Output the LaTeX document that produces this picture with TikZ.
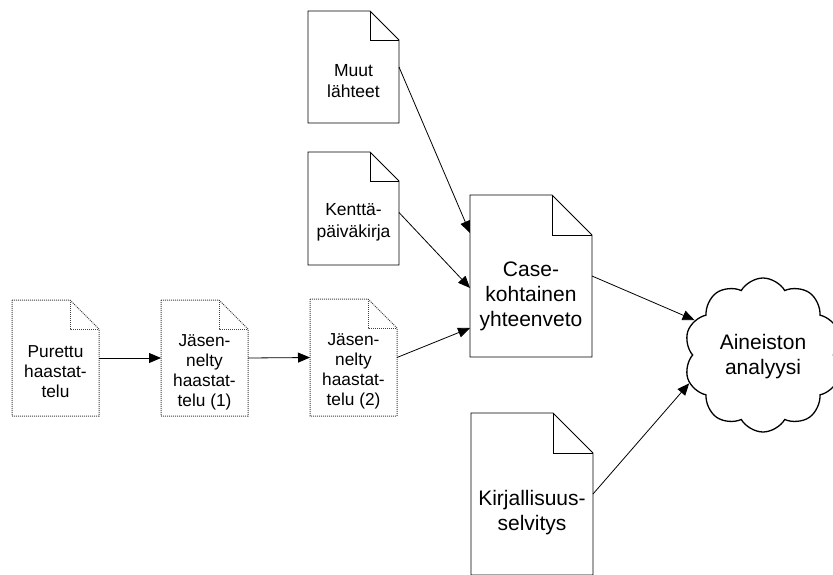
\documentclass[tikz,border=0pt]{standalone}
\usepackage{fontspec}
\setmainfont{Liberation Sans}
\usetikzlibrary{arrows.meta,shapes.symbols}
\tikzset{
  docbox/.style={rectangle, inner sep=0pt, outer sep=0pt, draw=none},
  smalltxt/.style={align=center, inner sep=0pt, font=\fontsize{17.3}{20}\selectfont},
  midtxt/.style={align=center, inner sep=0pt, font=\fontsize{17.5}{21.5}\selectfont},
  bigtxt/.style={align=center, inner sep=0pt, font=\fontsize{21}{25}\selectfont},
  solidline/.style={draw=black, line width=0.9pt, line join=miter},
  dotline/.style={draw=black!75, line width=1pt, dash pattern=on 1pt off 1pt},
  conn/.style={draw=black, line width=0.8pt, -{Triangle[length=12pt,width=10pt]}},
}
\newcommand\docout[3]{%
  \draw[#3] (#1.north west) -- ([xshift=-#2]#1.north east) -- ([yshift=-#2]#1.north east) -- (#1.south east) -- (#1.south west) -- cycle;
  \draw[#3] ([xshift=-#2]#1.north east) -- ([xshift=-#2,yshift=-#2]#1.north east) -- ([yshift=-#2]#1.north east);
}
\begin{document}
\begin{tikzpicture}[x=1pt,y=-1pt]
\useasboundingbox (0,0) rectangle (833,574);
\clip (0,0) rectangle (833,574);
% left documents
\node[docbox, minimum width=87pt, minimum height=116pt] (d1) at (55.5,358) {};
\node[docbox, minimum width=87pt, minimum height=116pt] (d2) at (204.5,358) {};
\node[docbox, minimum width=87pt, minimum height=117pt] (d3) at (353.5,357.5) {};
\docout{d1}{29}{dotline}
\docout{d2}{29}{dotline}
\docout{d3}{29}{dotline}
\node[smalltxt] (d1t) at ([yshift=-14]d1.center) {Purettu\\haastat-\\telu};
\node[smalltxt] (d2t) at ([yshift=-14]d2.center) {Jäsen-\\nelty\\haastat-\\telu (1)};
\node[smalltxt] (d3t) at ([yshift=-14]d3.center) {Jäsen-\\nelty\\haastat-\\telu (2)};
% top documents
\node[docbox, minimum width=91pt, minimum height=112pt] (muut) at (353.5,67) {};
\node[docbox, minimum width=91pt, minimum height=113pt] (kentta) at (353.5,208.5) {};
\docout{muut}{29}{solidline}
\docout{kentta}{29}{solidline}
\node[midtxt] (muutt) at ([yshift=-14]muut.center) {Muut\\lähteet};
\node[midtxt] (kenttat) at ([yshift=-14]kentta.center) {Kenttä-\\päiväkirja};
% big documents
\node[docbox, minimum width=122pt, minimum height=162pt] (case) at (531,276) {};
\node[docbox, minimum width=122pt, minimum height=162pt] (kirj) at (532,494) {};
\docout{case}{40}{solidline}
\docout{kirj}{40}{solidline}
\node[bigtxt] (caset) at ([yshift=-20]case.center) {Case-\\kohtainen\\yhteenveto};
\node[bigtxt] (kirjt) at ([yshift=-19]kirj.center) {Kirjallisuus-\\selvitys};
% cloud
\node[cloud, cloud puffs=10, cloud puff arc=120, aspect=1, draw=black, line width=1.3pt,
      minimum width=158pt, minimum height=154pt, inner sep=0pt] (cloud) at (763,355) {};
\node[bigtxt] (cloudt) at ([yshift=-2]cloud.center) {Aineiston\\analyysi};
% connectors
\draw[conn] (d1.east) -- (d2.west);
\draw[conn] (d2.east) -- (d3.west);
\draw[conn] (d3.east) -- ([yshift=-52]case.west);
\draw[conn] (muut.east) -- ([yshift=43]case.west);
\draw[conn] ([yshift=-4]kentta.east) -- ([yshift=-12]case.west);
\draw[conn] (case.east) -- (cloud.153);
\draw[conn] (kirj.east) -- (cloud.201);
\end{tikzpicture}
\end{document}
